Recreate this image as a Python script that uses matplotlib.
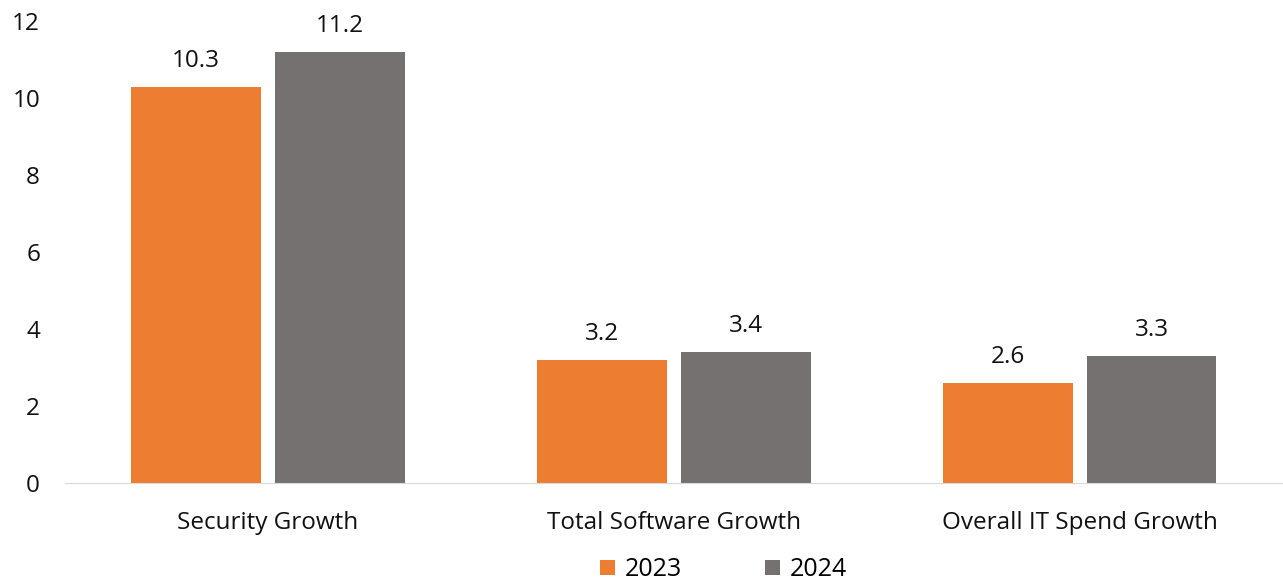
import numpy as np
from matplotlib import pyplot as plt

plt.rcParams['font.family'] = ['Open Sans', 'DejaVu Sans']

categories = ["Security Growth", "Total Software Growth", "Overall IT Spend Growth"]
series_names = ["2023", "2024"]
values_2023 = [10.3, 3.2, 2.6]
values_2024 = [11.2, 3.4, 3.3]
colors = ["#ED7D31", "#767171"]

fig = plt.figure(figsize=(12.83, 5.86), dpi=100)
ax = fig.add_axes([0.0507, 0.176, 0.949, 0.788])

x = np.arange(len(categories))
width = 0.32
offset = 0.177
for vals, name, col, off in zip([values_2023, values_2024], series_names, colors, [-offset, offset]):
    bars = ax.bar(x + off, vals, width, color=col, label=name)
    for b, v in zip(bars, vals):
        ax.text(b.get_x() + b.get_width() / 2, v + 0.36, f"{v:.1f}",
                ha='center', va='bottom', fontsize=17.5, color='#111111')

ax.set_xlim(-0.5, 2.5)
ax.set_ylim(0, 12)
ax.set_yticks(range(0, 13, 2))
ax.set_xticks(x)
ax.set_xticklabels(categories)
ax.tick_params(axis='both', length=0, labelsize=17.5, colors='#111111')
ax.tick_params(axis='y', pad=18)
ax.tick_params(axis='x', pad=20)
for s in ['top', 'right', 'left']:
    ax.spines[s].set_visible(False)
ax.spines['bottom'].set_color('#D9D9D9')

fig.legend(loc='lower center', bbox_to_anchor=(0.564, -0.032), ncol=2, frameon=False,
           fontsize=18, handlelength=0.6, handleheight=0.6, columnspacing=3.3, handletextpad=0.4)

fig.savefig("out.png", dpi=100)
